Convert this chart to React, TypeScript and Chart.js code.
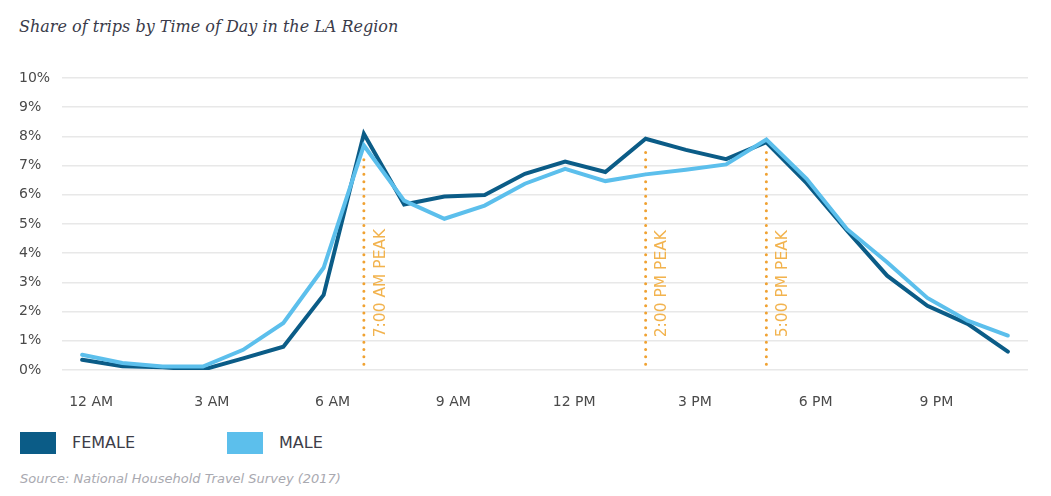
import { useEffect, useRef } from 'react'
import { Chart, registerables } from 'chart.js'
import type { Plugin } from 'chart.js'

Chart.register(...registerables)

// hours of the day (x categories)
const hours = [
  '12 AM', '1 AM', '2 AM', '3 AM', '4 AM', '5 AM', '6 AM', '7 AM', '8 AM', '9 AM', '10 AM', '11 AM',
  '12 PM', '1 PM', '2 PM', '3 PM', '4 PM', '5 PM', '6 PM', '7 PM', '8 PM', '9 PM', '10 PM', '11 PM',
]

// share of trips, percent
const female = [
  0.35, 0.13, 0.09, 0.01, 0.4, 0.8, 2.57, 8.09, 5.67, 5.94, 5.99, 6.72,
  7.14, 6.78, 7.92, 7.54, 7.22, 7.8, 6.4, 4.78, 3.23, 2.2, 1.58, 0.63,
]
const male = [
  0.52, 0.24, 0.12, 0.12, 0.69, 1.61, 3.5, 7.69, 5.8, 5.18, 5.63, 6.38,
  6.89, 6.47, 6.7, 6.86, 7.04, 7.89, 6.55, 4.83, 3.69, 2.47, 1.69, 1.18,
]

// peak markers
const peakHours = ['7 AM', '2 PM', '5 PM']
const peakLabels = ['7:00 AM PEAK', '2:00 PM PEAK', '5:00 PM PEAK']
const peakTops = [7.25, 7.6, 7.45]

const FEMALE_COLOR = '#0b5c87'
const MALE_COLOR = '#5cbfec'
const PEAK_COLOR = '#f0a232'
const FONT = '"DejaVu Sans", sans-serif'

const peakPlugin: Plugin<'line'> = {
  id: 'peaks',
  beforeDatasetsDraw(chart) {
    const { ctx } = chart
    const x = chart.scales.x
    const y = chart.scales.y
    peakHours.forEach((h, i) => {
      const px = x.getPixelForValue(hours.indexOf(h))
      const top = y.getPixelForValue(peakTops[i])
      const bottom = y.getPixelForValue(0.2)
      ctx.save()
      ctx.strokeStyle = PEAK_COLOR
      ctx.lineWidth = 3
      ctx.lineCap = 'round'
      ctx.setLineDash([0, 7.3])
      ctx.beginPath()
      ctx.moveTo(px, bottom)
      ctx.lineTo(px, top)
      ctx.stroke()
      ctx.setLineDash([])

      ctx.translate(px + 9, y.getPixelForValue(1.12))
      ctx.rotate(-Math.PI / 2)
      ctx.fillStyle = '#f2b34e'
      ctx.font = '15.5px ' + FONT
      ctx.textAlign = 'left'
      ctx.textBaseline = 'top'
      ctx.fillText(peakLabels[i], 0, 0)
      ctx.restore()
    })
  },
}

function TripsChart() {
  const canvasRef = useRef<HTMLCanvasElement>(null)

  useEffect(() => {
    if (!canvasRef.current) return
    const chart = new Chart(canvasRef.current, {
      type: 'line',
      data: {
        labels: hours,
        datasets: [
          {
            label: 'FEMALE',
            data: female,
            borderColor: FEMALE_COLOR,
            backgroundColor: FEMALE_COLOR,
            borderWidth: 4,
            pointRadius: 0,
            tension: 0,
            borderCapStyle: 'round',
            order: 1,
          },
          {
            label: 'MALE',
            data: male,
            borderColor: MALE_COLOR,
            backgroundColor: MALE_COLOR,
            borderWidth: 4,
            pointRadius: 0,
            tension: 0,
            borderCapStyle: 'round',
            order: 0,
          },
        ],
      },
      options: {
        responsive: false,
        animation: false,
        layout: { padding: { left: 19, right: 23, top: 18, bottom: 0 } },
        plugins: {
          legend: { display: false },
          tooltip: { enabled: false },
        },
        scales: {
          x: {
            offset: true,
            grid: { display: false },
            border: { display: false },
            ticks: {
              autoSkip: false,
              maxRotation: 0,
              padding: 16,
              labelOffset: 9,
              color: '#4a4a4a',
              font: { family: FONT, size: 14 },
              callback: (_v, i) => (i % 3 === 0 ? hours[i] : ''),
            },
            afterFit: (s) => {
              s.height = 41
            },
          },
          y: {
            min: 0,
            max: 10,
            border: { display: false },
            grid: { color: '#e8e8e8', lineWidth: 1.5, drawTicks: false },
            ticks: {
              stepSize: 1,
              crossAlign: 'far',
              color: '#4a4a4a',
              font: { family: FONT, size: 14 },
              callback: (v) => v + '%',
            },
            afterFit: (s) => {
              s.width = 43
            },
          },
        },
      },
      plugins: [peakPlugin],
    })
    return () => chart.destroy()
  }, [])

  return <canvas ref={canvasRef} width={1051} height={351} style={{ position: 'absolute', left: 0, top: 60 }} />
}

export default function App() {
  const legendText = { position: 'absolute' as const, top: 433, fontFamily: FONT, fontSize: 16, color: '#3d3d48', lineHeight: '20px' }
  return (
    <div style={{ position: 'absolute', left: 0, top: 0, width: 1051, height: 496, background: '#fff' }}>
      <div
        style={{
          position: 'absolute',
          left: 19,
          top: 17,
          fontFamily: '"DejaVu Serif", serif',
          fontStyle: 'italic',
          fontSize: 16,
          color: '#3a3b4a',
          whiteSpace: 'nowrap',
        }}
      >
        Share of trips by Time of Day in the LA Region
      </div>
      <TripsChart />
      <div style={{ position: 'absolute', left: 20, top: 432, width: 36, height: 22, background: FEMALE_COLOR }} />
      <div style={{ ...legendText, left: 72 }}>FEMALE</div>
      <div style={{ position: 'absolute', left: 227, top: 432, width: 36, height: 22, background: MALE_COLOR }} />
      <div style={{ ...legendText, left: 279 }}>MALE</div>
      <div
        style={{
          position: 'absolute',
          left: 20,
          top: 471,
          fontFamily: FONT,
          fontStyle: 'italic',
          fontSize: 13,
          color: '#a9a9b0',
          whiteSpace: 'nowrap',
        }}
      >
        Source: National Household Travel Survey (2017)
      </div>
    </div>
  )
}
